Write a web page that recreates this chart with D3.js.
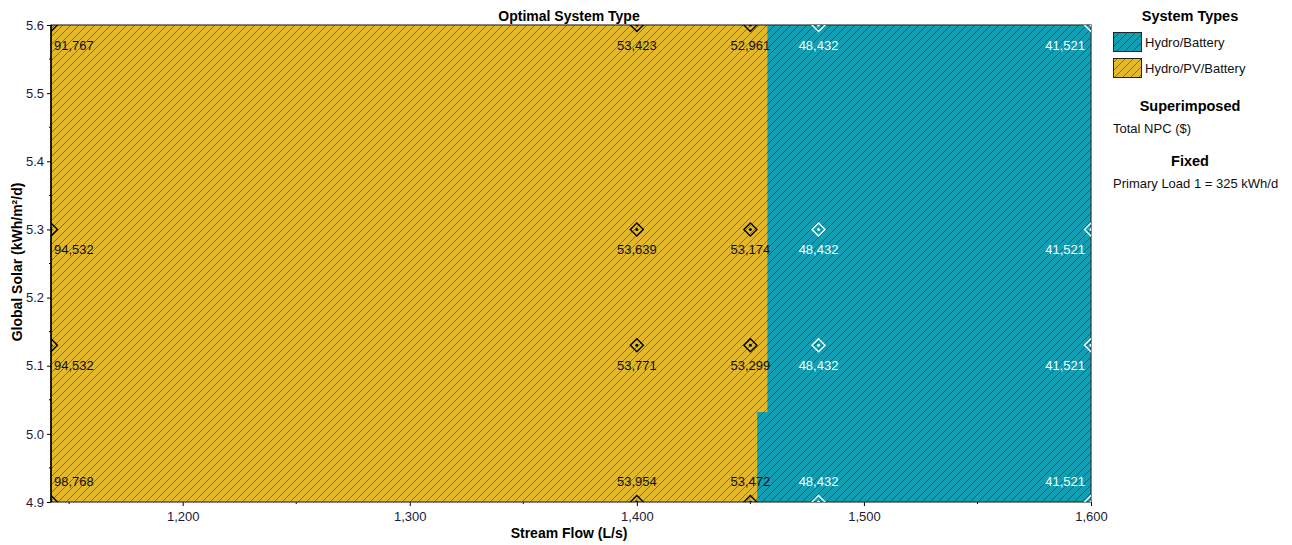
<!DOCTYPE html>
<html>
<head>
<meta charset="utf-8">
<script src="https://cdn.jsdelivr.net/npm/d3@7"></script>
<style>
  html, body { margin: 0; padding: 0; background: #fff; }
  svg { display: block; font-family: "Liberation Sans", Arial, sans-serif; }
</style>
</head>
<body>
<svg id="chart" width="1292" height="545"></svg>
<script>
// ---------- data ----------
const flowValues = [1142, 1400, 1450, 1480, 1600];          // Stream Flow (L/s)
const solarValues = [5.6, 5.3, 5.13, 4.9];                   // Global Solar (kWh/m²/d)
const npcRow56  = [91767, 53423, 52961, 48432, 41521];
const npcRow53  = [94532, 53639, 53174, 48432, 41521];
const npcRow513 = [94532, 53771, 53299, 48432, 41521];
const npcRow49  = [98768, 53954, 53472, 48432, 41521];
const npcRows = [npcRow56, npcRow53, npcRow513, npcRow49];
// system type at each sample (0 = Hydro/PV/Battery, 1 = Hydro/Battery)
const typeByColumn = [0, 0, 0, 1, 1];
// boundary between region types: solar bands and the flow where type switches
const boundarySolar = [4.9, 5.032, 5.6];
const boundaryFlow = [1453, 1457.5];
const xTicks = [1200, 1300, 1400, 1500, 1600];
const yTicks = [4.9, 5.0, 5.1, 5.2, 5.3, 5.4, 5.5, 5.6];
const systemTypes = ["Hydro/Battery", "Hydro/PV/Battery"];

// ---------- layout ----------
const svg = d3.select("#chart");
const plot = { left: 51, right: 1091, top: 25, bottom: 502 };
const x = d3.scaleLinear().domain([flowValues[0], 1600]).range([plot.left, plot.right]);
const y = d3.scaleLinear().domain([4.9, 5.6]).range([plot.bottom, plot.top]);

const colYellow = "#E3B82B", colTeal = "#139FB3";

const defs = svg.append("defs");
function makePattern(id, fill) {
  const p = defs.append("pattern").attr("id", id).attr("patternUnits", "userSpaceOnUse")
    .attr("width", 8).attr("height", 8);
  p.append("rect").attr("width", 8).attr("height", 8).attr("fill", fill);
  p.append("path").attr("d", "M-2,2 L2,-2 M0,8 L8,0 M6,10 L10,6")
    .attr("stroke", "rgba(20,20,10,0.5)").attr("stroke-width", 0.9);
}
makePattern("patYellow", colYellow);
makePattern("patTeal", colTeal);
defs.append("clipPath").attr("id", "plotClip").append("rect")
  .attr("x", plot.left).attr("y", plot.top)
  .attr("width", plot.right - plot.left).attr("height", plot.bottom - plot.top);

// ---------- regions ----------
const gReg = svg.append("g");
gReg.append("rect")
  .attr("x", x(flowValues[0])).attr("y", y(5.6))
  .attr("width", x(1600) - x(flowValues[0])).attr("height", y(4.9) - y(5.6))
  .attr("fill", "url(#patTeal)");
boundaryFlow.forEach((f, i) => {
  gReg.append("rect")
    .attr("x", x(flowValues[0])).attr("y", y(boundarySolar[i + 1]))
    .attr("width", x(f) - x(flowValues[0]))
    .attr("height", y(boundarySolar[i]) - y(boundarySolar[i + 1]))
    .attr("fill", "url(#patYellow)");
});

// ---------- axes ----------
const gx = svg.append("g").attr("transform", `translate(0,${plot.bottom})`)
  .call(d3.axisBottom(x).tickValues(xTicks).tickFormat(d3.format(",")).tickSize(4).tickSizeOuter(0));
gx.selectAll("text").attr("font-size", 13).attr("fill", "#1a1a3a").attr("dy", "0.9em");
gx.select(".domain").remove();
const minorX = d3.range(1150, 1600, 100);
svg.append("g").selectAll("line").data(minorX).join("line")
  .attr("x1", d => x(d)).attr("x2", d => x(d)).attr("y1", plot.bottom).attr("y2", plot.bottom + 2)
  .attr("stroke", "#000");

const gy = svg.append("g").attr("transform", `translate(${plot.left},0)`)
  .call(d3.axisLeft(y).tickValues(yTicks).tickFormat(d3.format(".1f")).tickSize(4).tickSizeOuter(0));
gy.selectAll("text").attr("font-size", 13).attr("fill", "#1a1a3a");
gy.select(".domain").remove();
const minorY = [4.95, 5.05, 5.15, 5.25, 5.35, 5.45, 5.55];
svg.append("g").selectAll("line").data(minorY).join("line")
  .attr("x1", plot.left - 2).attr("x2", plot.left).attr("y1", d => y(d)).attr("y2", d => y(d))
  .attr("stroke", "#000");

// frame
svg.append("rect").attr("x", plot.left).attr("y", plot.top)
  .attr("width", plot.right - plot.left).attr("height", plot.bottom - plot.top)
  .attr("fill", "none").attr("stroke", "#333").attr("stroke-width", 1.2);
svg.append("line").attr("x1", plot.left).attr("x2", plot.left).attr("y1", plot.top).attr("y2", plot.bottom)
  .attr("stroke", "#000").attr("stroke-width", 1.5);

// ---------- markers & labels ----------
const points = [];
solarValues.forEach((s, r) => flowValues.forEach((f, c) => {
  points.push({ s, f, r, c, v: npcRows[r][c], t: typeByColumn[c] });
}));
const gm = svg.append("g").attr("clip-path", "url(#plotClip)");
const dsz = 6.5;
gm.selectAll("path.mk").data(points).join("path").attr("class", "mk")
  .attr("d", d => `M${x(d.f)},${y(d.s) - dsz} L${x(d.f) + dsz},${y(d.s)} L${x(d.f)},${y(d.s) + dsz} L${x(d.f) - dsz},${y(d.s)} Z`)
  .attr("fill", "none").attr("stroke", d => d.t ? "#fff" : "#000").attr("stroke-width", 1.4);
gm.selectAll("circle.mk").data(points).join("circle").attr("class", "mk")
  .attr("cx", d => x(d.f)).attr("cy", d => y(d.s)).attr("r", 1.5)
  .attr("fill", d => d.t ? "#fff" : "#000");

svg.append("g").selectAll("text").data(points).join("text")
  .attr("x", d => d.c === 0 ? x(d.f) + 3 : d.c === flowValues.length - 1 ? x(d.f) - 6 : x(d.f))
  .attr("y", d => d.r === solarValues.length - 1 ? y(d.s) - 21 : y(d.s) + 20)
  .attr("dy", "0.35em")
  .attr("text-anchor", d => d.c === 0 ? "start" : d.c === flowValues.length - 1 ? "end" : "middle")
  .attr("font-size", 13)
  .attr("fill", d => d.t ? "#fff" : "#111")
  .text(d => d3.format(",")(d.v));

// ---------- titles ----------
svg.append("text").attr("x", 569).attr("y", 21).attr("text-anchor", "middle")
  .attr("font-size", 14).attr("font-weight", "bold").text("Optimal System Type");
svg.append("text").attr("x", 569).attr("y", 538).attr("text-anchor", "middle")
  .attr("font-size", 14).attr("font-weight", "bold").text("Stream Flow (L/s)");
svg.append("text").attr("transform", "translate(22,262) rotate(-90)").attr("text-anchor", "middle")
  .attr("font-size", 14).attr("font-weight", "bold").text("Global Solar (kWh/m²/d)");

// ---------- legend ----------
const lg = svg.append("g");
lg.append("text").attr("x", 1190).attr("y", 21).attr("text-anchor", "middle")
  .attr("font-size", 14.5).attr("font-weight", "bold").text("System Types");
const swatchFill = ["url(#patTeal)", "url(#patYellow)"];
systemTypes.forEach((name, i) => {
  lg.append("rect").attr("x", 1113.5).attr("y", 32.5 + i * 26).attr("width", 28).attr("height", 19)
    .attr("fill", swatchFill[i]).attr("stroke", "#222").attr("stroke-width", 1);
  lg.append("text").attr("x", 1145).attr("y", 42 + i * 26).attr("dy", "0.35em")
    .attr("font-size", 13).attr("fill", "#111").text(name);
});
lg.append("text").attr("x", 1190).attr("y", 111).attr("text-anchor", "middle")
  .attr("font-size", 14.5).attr("font-weight", "bold").text("Superimposed");
lg.append("text").attr("x", 1113).attr("y", 128).attr("dy", "0.35em")
  .attr("font-size", 13).attr("fill", "#111").text("Total NPC ($)");
lg.append("text").attr("x", 1190).attr("y", 166).attr("text-anchor", "middle")
  .attr("font-size", 14.5).attr("font-weight", "bold").text("Fixed");
lg.append("text").attr("x", 1113).attr("y", 183).attr("dy", "0.35em")
  .attr("font-size", 13).attr("fill", "#111").text("Primary Load 1 = 325 kWh/d");
</script>
</body>
</html>
